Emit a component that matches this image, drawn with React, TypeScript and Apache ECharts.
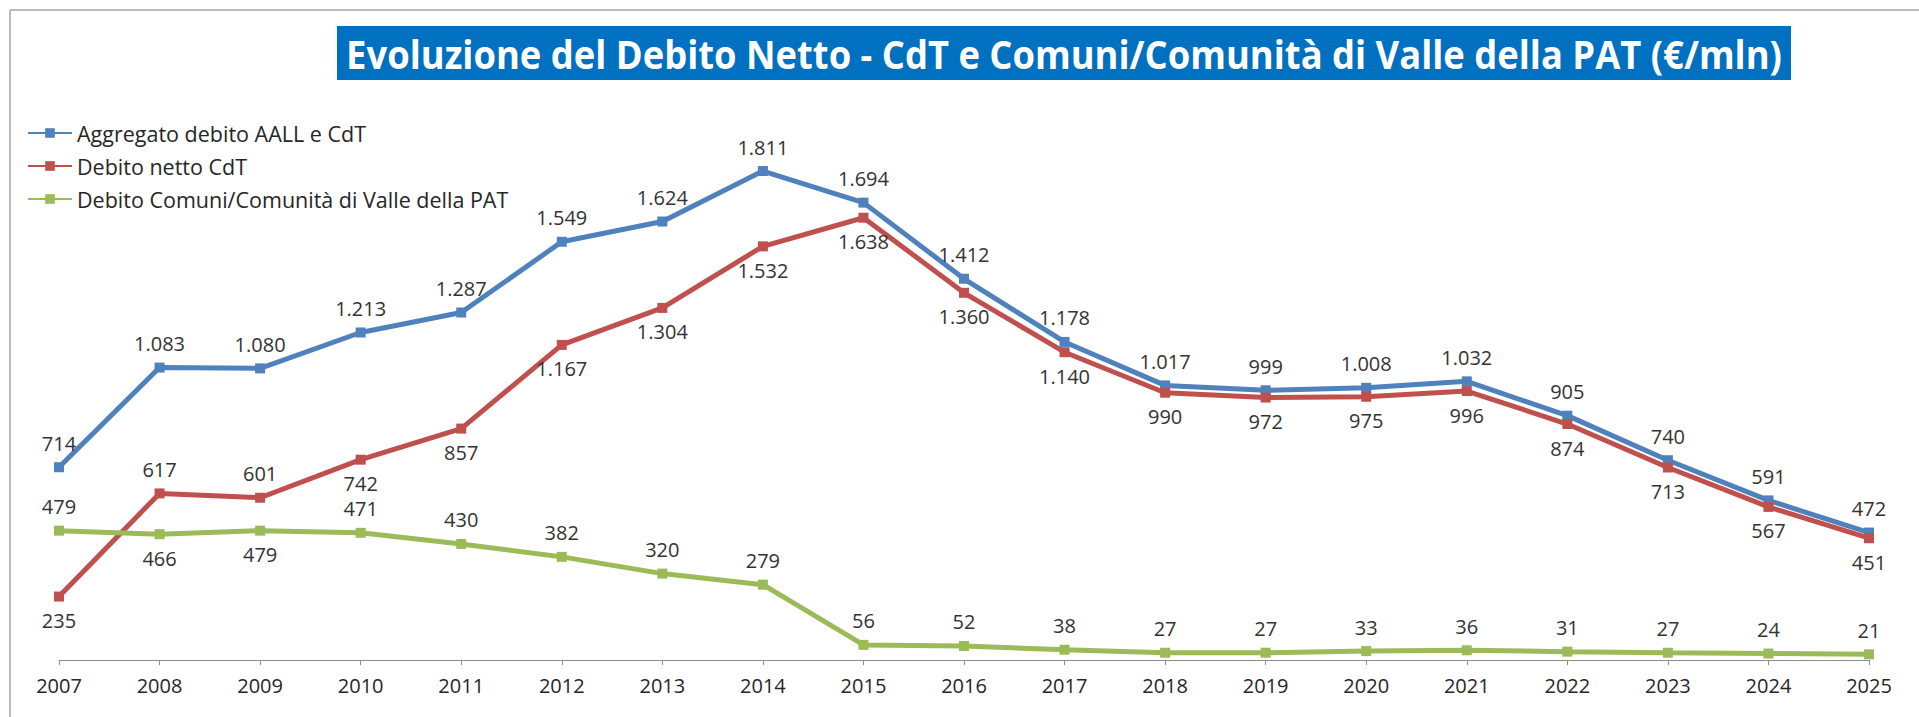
import React, { useEffect, useRef } from "react";
import * as echarts from "echarts";

const years = ["2007", "2008", "2009", "2010", "2011", "2012", "2013", "2014", "2015", "2016", "2017", "2018", "2019", "2020", "2021", "2022", "2023", "2024", "2025"];
const aggregato = [714, 1083, 1080, 1213, 1287, 1549, 1624, 1811, 1694, 1412, 1178, 1017, 999, 1008, 1032, 905, 740, 591, 472];
const debitoCdT = [235, 617, 601, 742, 857, 1167, 1304, 1532, 1638, 1360, 1140, 990, 972, 975, 996, 874, 713, 567, 451];
const debitoComuni = [479, 466, 479, 471, 430, 382, 320, 279, 56, 52, 38, 27, 27, 33, 36, 31, 27, 24, 21];
const aggregatoLabelPos = ["top", "top", "top", "top", "top", "top", "top", "top", "top", "top", "top", "top", "top", "top", "top", "top", "top", "top", "top"];
const cdtLabelPos = ["bottom", "top", "top", "bottom", "bottom", "bottom", "bottom", "bottom", "bottom", "bottom", "bottom", "bottom", "bottom", "bottom", "bottom", "bottom", "bottom", "bottom", "bottom"];
const comuniLabelPos = ["top", "bottom", "bottom", "top", "top", "top", "top", "top", "top", "top", "top", "top", "top", "top", "top", "top", "top", "top", "top"];
const seriesNames = ["Aggregato debito AALL e CdT", "Debito netto CdT", "Debito Comuni/Comunità di Valle della PAT"];
const seriesColors = ["#4F81BD", "#C0504D", "#9BBB59"];
const titleText = "Evoluzione del Debito Netto - CdT e Comuni/Comunità di Valle della PAT (€/mln)";

const FONT = "'Open Sans', 'Noto Sans', sans-serif";

function fmt(v: number): string {
  const s = String(v);
  return s.length > 3 ? s.slice(0, -3) + "." + s.slice(-3) : s;
}

function measure(text: string, font: string): number {
  const c = document.createElement("canvas");
  const ctx = c.getContext("2d");
  if (!ctx) return 1;
  ctx.font = font;
  return ctx.measureText(text).width || 1;
}

export default function App() {
  const ref = useRef<HTMLDivElement>(null);
  useEffect(() => {
    document.body.style.margin = "0";
    if (!ref.current) return;
    const chart = echarts.init(ref.current, null, { renderer: "svg" });

    const titleFont = `700 40px ${FONT}`;
    const titleW = measure(titleText, titleFont);
    const titleScale = 1436 / titleW;

    const mk = (name: string, color: string, vals: number[], pos: string[]) => ({
      name,
      type: "line",
      data: vals.map((v, i) => ({ value: v, label: { position: pos[i] } })),
      symbol: "rect",
      symbolSize: 10,
      lineStyle: { color, width: 5 },
      itemStyle: { color },
      label: {
        show: true,
        formatter: (p: any) => fmt(p.value),
        fontSize: 20,
        fontFamily: FONT,
        color: "#333",
        distance: 9,
      },
      z: 3,
    });

    chart.setOption({
      animation: false,
      backgroundColor: "#fff",
      grid: { left: 59, right: 50, top: 120, bottom: 57 },
      legend: {
        orient: "vertical",
        left: 27,
        top: 122,
        padding: 0,
        itemWidth: 44,
        itemHeight: 12,
        itemGap: 11,
        textStyle: { fontSize: 21.5, fontFamily: FONT, color: "#262626", lineHeight: 22 },
        data: seriesNames,
      },
      xAxis: {
        type: "category",
        data: years,
        boundaryGap: false,
        axisLine: { lineStyle: { color: "#8c8c8c", width: 1 } },
        axisTick: { show: true, inside: false, length: 5, alignWithLabel: true, lineStyle: { color: "#8c8c8c" } },
        axisLabel: { fontSize: 20, fontFamily: FONT, color: "#262626", margin: 15 },
      },
      yAxis: {
        type: "value",
        min: 0,
        max: 2000,
        show: false,
        splitLine: { show: false },
      },
      graphic: [
        { type: "line", shape: { x1: 10, y1: 10, x2: 1919, y2: 10 }, style: { stroke: "#a6a6a6", lineWidth: 1.5 } },
        { type: "line", shape: { x1: 10, y1: 10, x2: 10, y2: 717 }, style: { stroke: "#a6a6a6", lineWidth: 1.5 } },
        { type: "rect", shape: { x: 337, y: 26, width: 1454, height: 54 }, style: { fill: "#0070C0" } },
        {
          type: "text",
          x: 1064,
          y: 53,
          scaleX: titleScale,
          style: { text: titleText, fill: "#ffffff", font: titleFont, align: "center", verticalAlign: "middle" },
        },
      ],
      series: [
        mk(seriesNames[0], seriesColors[0], aggregato, aggregatoLabelPos),
        mk(seriesNames[1], seriesColors[1], debitoCdT, cdtLabelPos),
        mk(seriesNames[2], seriesColors[2], debitoComuni, comuniLabelPos),
      ],
    });
    return () => chart.dispose();
  }, []);
  return <div ref={ref} style={{ width: 1919, height: 717 }} />;
}
